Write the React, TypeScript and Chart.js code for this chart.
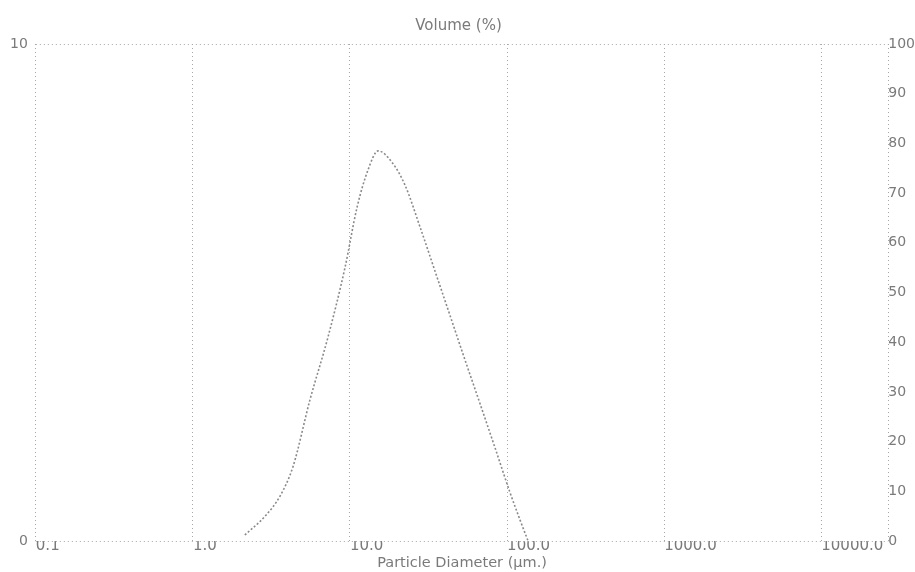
import React, { useEffect, useRef } from "react";
import { Chart, registerables } from "chart.js";

Chart.register(...registerables);

// Particle size distribution
const diameters = [2.14, 2.88, 3.58, 4.34, 5.56, 7.24, 9.29, 11.1, 13.0, 15.1, 18.5, 22.4, 27.9, 35.8, 43.4, 54.0, 67.3, 83.9, 104.5, 121, 136];
const volumes = [0.12, 0.5, 0.9, 1.5, 2.84, 4.1, 5.5, 6.72, 7.46, 7.85, 7.62, 7.16, 6.32, 5.31, 4.53, 3.64, 2.76, 1.87, 0.97, 0.42, 0];

const xTickValues = [0.1, 1, 10, 100, 1000, 10000];
const xTickLabels = ["0.1", "1.0", "10.0", "100.0", "1000.0", "10000.0"];
const leftTickValues = [0, 10];
const rightTickValues = [0, 10, 20, 30, 40, 50, 60, 70, 80, 90, 100];

const chartTitle = "Volume (%)";
const xAxisTitle = "Particle Diameter (µm.)";

const TEXT = "#7a7a7a";
const LINE = "#a6a6a6";
const FONT = "'DejaVu Sans', sans-serif";

const framePlugin = {
  id: "dottedFrame",
  beforeDatasetsDraw(chart: any) {
    const { ctx, chartArea } = chart;
    const { left, right, top, bottom } = chartArea;
    ctx.save();
    ctx.strokeStyle = LINE;
    ctx.lineWidth = 1;
    ctx.setLineDash([1, 3]);
    ctx.beginPath();
    ctx.moveTo(left, Math.round(top) + 0.5);
    ctx.lineTo(right, Math.round(top) + 0.5);
    ctx.moveTo(left, Math.round(bottom) + 0.5);
    ctx.lineTo(right, Math.round(bottom) + 0.5);
    ctx.moveTo(Math.round(right) + 0.5, top);
    ctx.lineTo(Math.round(right) + 0.5, bottom);
    ctx.stroke();
    ctx.restore();
  },
};

export default function App() {
  const ref = useRef<HTMLCanvasElement | null>(null);

  useEffect(() => {
    if (!ref.current) return;
    const data = diameters.map((d, i) => ({ x: d, y: volumes[i] }));
    const chart = new Chart(ref.current, {
      type: "line",
      data: {
        datasets: [
          {
            data,
            yAxisID: "y",
            xAxisID: "x",
            borderColor: "#8a8a8a",
            borderWidth: 1.6,
            borderDash: [2, 2],
            pointRadius: 0,
            cubicInterpolationMode: "monotone",
            fill: false,
          },
        ],
      },
      options: {
        responsive: false,
        animation: false,
        layout: { padding: { left: 2, right: 0, top: 0, bottom: 1.5 } },
        plugins: {
          legend: { display: false },
          tooltip: { enabled: false },
          title: {
            display: true,
            text: chartTitle,
            color: TEXT,
            font: { family: FONT, size: 15, weight: "normal", lineHeight: 1.2 },
            padding: { top: 17, bottom: 9 },
          },
        },
        scales: {
          x: {
            type: "logarithmic",
            position: "bottom",
            min: 0.1,
            max: 26700,
            afterBuildTicks: (scale: any) => {
              scale.ticks = xTickValues.map((v) => ({ value: v }));
            },
            grid: { display: true, color: LINE, lineWidth: 1, drawTicks: false },
            border: { display: false, dash: [1, 3] },
            ticks: {
              color: TEXT,
              font: { family: FONT, size: 15, lineHeight: 1 },
              padding: -2,
              align: "start",
              maxRotation: 0,
              autoSkip: false,
              callback: (_v: any, i: number) => xTickLabels[i],
            },
            title: {
              display: true,
              text: xAxisTitle,
              color: TEXT,
              font: { family: FONT, size: 14.5, lineHeight: 1 },
              padding: { top: 4, bottom: 0 },
            },
          },
          y: {
            type: "linear",
            position: "left",
            min: 0,
            max: 10,
            afterBuildTicks: (scale: any) => {
              scale.ticks = leftTickValues.map((v) => ({ value: v }));
            },
            grid: { display: false, drawTicks: false },
            border: { display: false },
            ticks: {
              color: TEXT,
              font: { family: FONT, size: 14 },
              padding: 8,
              callback: (v: any) => String(v),
            },
          },
          y2: {
            type: "linear",
            position: "right",
            min: 0,
            max: 100,
            afterBuildTicks: (scale: any) => {
              scale.ticks = rightTickValues.map((v) => ({ value: v }));
            },
            grid: { display: false, drawTicks: false },
            border: { display: false },
            ticks: {
              color: TEXT,
              font: { family: FONT, size: 14 },
              padding: 0,
              callback: (v: any) => String(v),
            },
          },
        },
      },
      plugins: [framePlugin],
    } as any);
    return () => chart.destroy();
  }, []);

  return (
    <div style={{ position: "fixed", left: 0, top: 0, width: 915, height: 572, background: "#ffffff" }}>
      <canvas ref={ref} width={915} height={572} style={{ display: "block" }} />
    </div>
  );
}
